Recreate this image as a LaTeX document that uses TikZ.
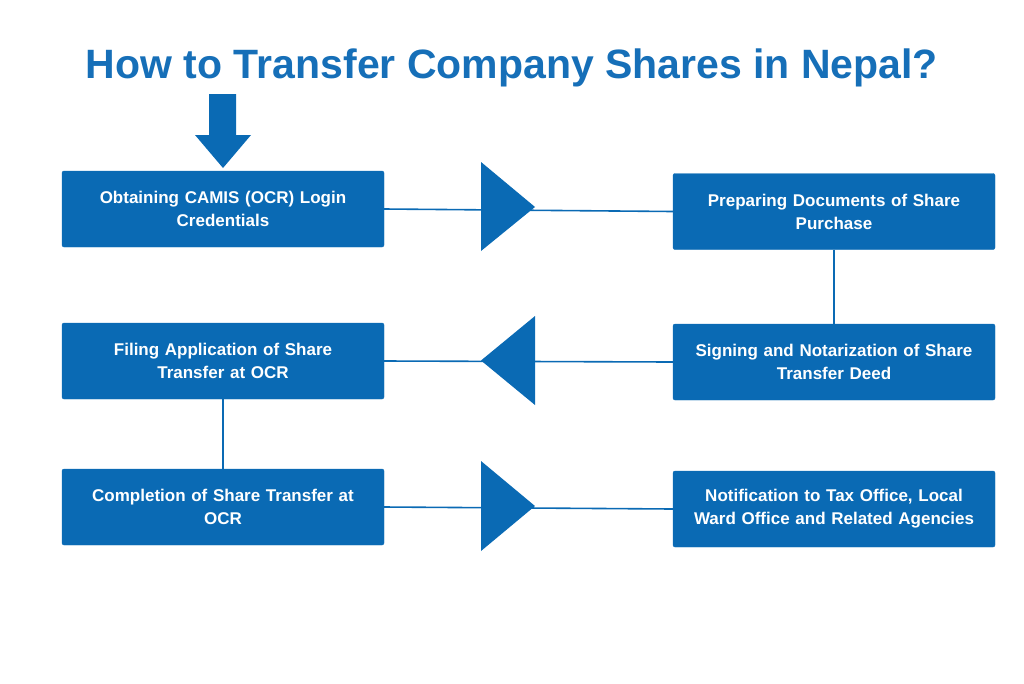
\documentclass[tikz,border=0pt]{standalone}
\usepackage{fontspec}
\setmainfont{Liberation Sans}
\begin{document}
\begin{tikzpicture}[x=1pt,y=-1pt]
\definecolor{bx}{HTML}{0A6AB4}
\definecolor{tt}{HTML}{166FB8}
\tikzset{box/.style={fill=bx,draw=bx,rounded corners=2pt,text=white,font=\bfseries\fontsize{17}{23}\selectfont,align=center,minimum width=322pt,minimum height=76pt,inner sep=2pt,text width=316pt},
 ln/.style={draw=bx,line width=1.6pt},
 tri/.style={fill=bx,draw=none}}
\useasboundingbox (0,0) rectangle (1024,683);
\node[text=tt,font=\bfseries\fontsize{41}{46}\selectfont,anchor=center] (title) at (512,68) {How to Transfer Company Shares in Nepal?};
\node[box] (b1) at (223,209) {Obtaining CAMIS (OCR) Login\\Credentials};
\node[box] (b2) at (834,211.5) {Preparing Documents of Share\\Purchase};
\node[box] (b3) at (223,361) {Filing Application of Share\\Transfer at OCR};
\node[box] (b4) at (834,362) {Signing and Notarization of Share\\Transfer Deed};
\node[box] (b5) at (223,507) {Completion of Share Transfer at\\OCR};
\node[box] (b6) at (834,509) {Notification to Tax Office, Local\\Ward Office and Related Agencies};
\draw[ln] (b1.east) -- (b2.west);
\draw[ln] (b2.south) -- (b4.north);
\draw[ln] (b4.west) -- (b3.east);
\draw[ln] (b3.south) -- (b5.north);
\draw[ln] (b5.east) -- (b6.west);
\fill[tri] (481,162) -- (535,207) -- (481,251) -- cycle;
\fill[tri] (535,316) -- (481,360.5) -- (535,405) -- cycle;
\fill[tri] (481,461) -- (535,506) -- (481,551) -- cycle;
\fill[tri] (209,94) -- (236,94) -- (236,135) -- (251,135) -- (223,168) -- (195,135) -- (209,135) -- cycle;
\end{tikzpicture}
\end{document}
